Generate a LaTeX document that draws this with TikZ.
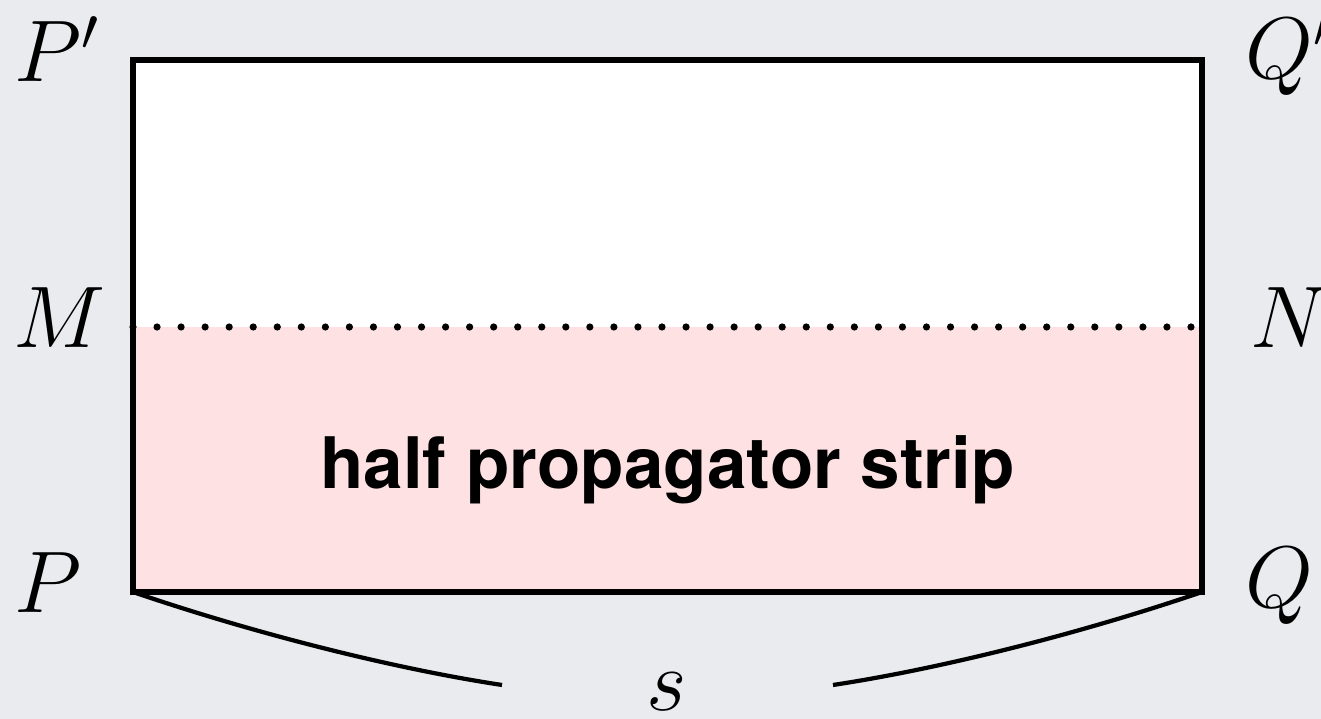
\documentclass[tikz,border=0pt]{standalone}
\usepackage{fontspec}
\newfontfamily\stripfont{TeX Gyre Heros}
\usetikzlibrary{positioning}
\definecolor{slidegray}{RGB}{233,235,238}
\definecolor{strippink}{RGB}{254,226,227}

\begin{document}
\begin{tikzpicture}[x=0.01cm, y=-0.01cm]
\fill[slidegray] (0,0) rectangle (1321,719);
\useasboundingbox (0,0) rectangle (1321,719);
\coordinate (Pp) at (133,60);
\coordinate (Qp) at (1202,60);
\coordinate (M) at (133,327);
\coordinate (N) at (1202,327);
\coordinate (P) at (133,592);
\coordinate (Q) at (1202,592);
\coordinate (sl) at (502,685);
\coordinate (sr) at (833,685);
\fill[white] (Pp) rectangle (N);
\fill[strippink] (M) rectangle (Q);
\foreach \i in {0,...,44}
  \fill (133+\i*24.045,327) circle (3.6);
\draw[line width=1.45pt] (Pp) rectangle (Q);
\draw[line width=1.2pt] (P) .. controls (250,632) and (390,668) .. (sl);
\draw[line width=1.2pt] (sr) .. controls (945,668) and (1085,632) .. (Q);
\node[anchor=base, inner sep=0pt] (strip) at (667.5,489) {\stripfont\fontsize{20.2}{24}\selectfont\bfseries half propagator strip};
\node[anchor=base west, inner sep=0pt] (lPp) at (14,82) {\fontsize{23}{28}\selectfont $P'$};
\node[anchor=base west, inner sep=0pt] (lM) at (13,348) {\fontsize{23}{28}\selectfont $M$};
\node[anchor=base west, inner sep=0pt] (lP) at (14,613) {\fontsize{23}{28}\selectfont $P$};
\node[anchor=base west, inner sep=0pt] (lQp) at (1245,79) {\fontsize{23}{28}\selectfont $Q'$};
\node[anchor=base west, inner sep=0pt] (lN) at (1250,348) {\fontsize{23}{28}\selectfont $N$};
\node[anchor=base west, inner sep=0pt] (lQ) at (1245,608) {\fontsize{23}{28}\selectfont $Q$};
\node[anchor=base west, inner sep=0pt] (ls) at (646,711) {\fontsize{30}{36}\selectfont $s$};
\end{tikzpicture}
\end{document}
